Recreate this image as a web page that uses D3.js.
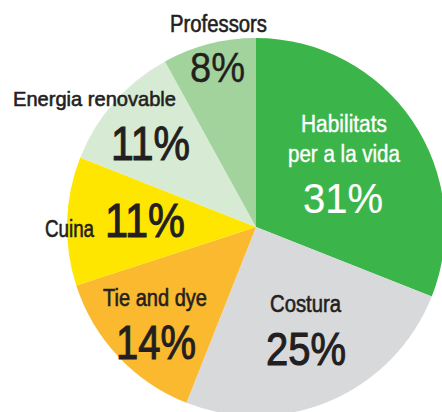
<!DOCTYPE html>
<html>
<head>
<meta charset="utf-8">
<script src="https://cdn.jsdelivr.net/npm/d3@7"></script>
<style>
  html, body { margin: 0; padding: 0; background: #fff; }
  svg { display: block; }
  text { font-family: "Liberation Sans", Arial, sans-serif; }
</style>
</head>
<body>
<svg id="svg" width="442" height="412"></svg>
<script>
// data
const categories = ["Habilitats per a la vida", "Costura", "Tie and dye", "Cuina", "Energia renovable", "Professors"];
const values = [31, 25, 14, 11, 11, 8];
const colors = ["#3bb54a", "#d8d9db", "#fbb92f", "#ffe600", "#d7ebd4", "#a3d39c"];

// label placement (relative to pie centre); the type is a condensed face, so
// each line is squeezed to the width it has in the original.
// stroke = extra outline to get a "medium" weight out of the regular face
const labelLayout = {
  "Habilitats per a la vida": {
    lines: [["Habilitats", 45, -95, 86], ["per a la vida", 32, -65, 112]], size: 23, stroke: 0.4,
    pct: [47, -13.7, 80], pctSize: 43, pctStroke: 0.2, fill: "#ffffff" },
  "Costura": {
    lines: [["Costura", 14, 85, 71]], size: 23.5, stroke: 0.6,
    pct: [10, 138, 80], pctSize: 47, pctStroke: 1.1, fill: "#231f20" },
  "Tie and dye": {
    lines: [["Tie and dye", -153, 79, 104]], size: 23.5, stroke: 0.6,
    pct: [-140, 132, 80], pctSize: 48, pctStroke: 1.1, fill: "#231f20" },
  "Cuina": {
    lines: [["Cuina", -211, 9.7, 49]], size: 23, stroke: 0.6,
    pct: [-151, 9.7, 80], pctSize: 49, pctStroke: 1.1, fill: "#231f20" },
  "Energia renovable": {
    lines: [["Energia renovable", -243, -121, 163]], size: 21, stroke: 0.6,
    pct: [-145, -67, 79], pctSize: 49, pctStroke: 1.1, fill: "#231f20" },
  "Professors": {
    lines: [["Professors", -86, -195.3, 97]], size: 23.3, stroke: 0.6,
    pct: [-66, -145.3, 55], pctSize: 42, pctStroke: 0.4, fill: "#231f20" }
};

const svg = d3.select("#svg");
const cx = 256, cy = 227, radius = 189;
const g = svg.append("g").attr("transform", "translate(" + cx + "," + cy + ")");

const data = categories.map(function(c, i) { return { name: c, value: values[i] }; });
const color = d3.scaleOrdinal().domain(categories).range(colors);

const pie = d3.pie().sort(null).value(function(d) { return d.value; });
const arc = d3.arc().innerRadius(0).outerRadius(radius);

g.selectAll(".slice")
  .data(pie(data))
  .enter().append("path")
  .attr("class", "slice")
  .attr("d", arc)
  .attr("fill", function(d) { return color(d.data.name); });

// labels
const labels = g.selectAll(".label")
  .data(data)
  .enter().append("g")
  .attr("class", "label");

labels.each(function(d) {
  const L = labelLayout[d.name];
  const sel = d3.select(this);
  L.lines.forEach(function(line) {
    sel.append("text")
      .attr("x", line[1]).attr("y", line[2])
      .attr("textLength", line[3])
      .attr("lengthAdjust", "spacingAndGlyphs")
      .attr("font-size", L.size)
      .attr("fill", L.fill)
      .attr("stroke", L.fill)
      .attr("stroke-width", L.stroke)
      .text(line[0]);
  });
  sel.append("text")
    .attr("x", L.pct[0]).attr("y", L.pct[1])
    .attr("textLength", L.pct[2])
    .attr("lengthAdjust", "spacingAndGlyphs")
    .attr("font-size", L.pctSize)
    .attr("fill", L.fill)
    .attr("stroke", L.fill)
    .attr("stroke-width", L.pctStroke)
    .text(d.value + "%");
});
</script>
</body>
</html>
